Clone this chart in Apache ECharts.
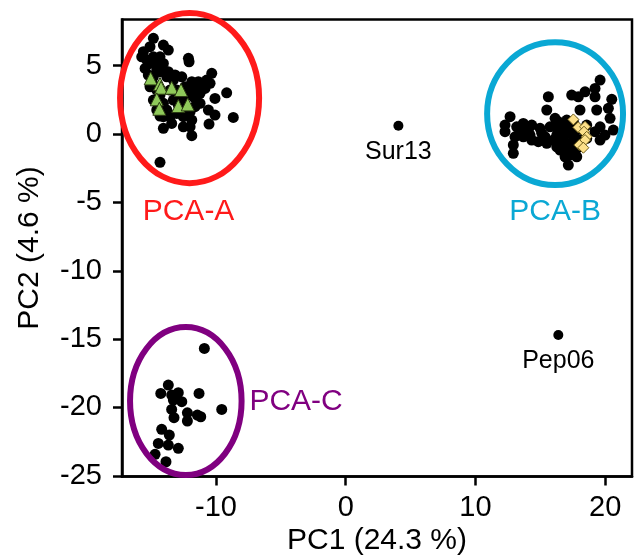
<!DOCTYPE html>
<html>
<head>
<meta charset="utf-8">
<script src="https://cdn.jsdelivr.net/npm/echarts@6/dist/echarts.min.js"></script>
<style>html,body{margin:0;padding:0;background:#fff}#c{width:635px;height:558px}</style>
</head>
<body>
<div id="c"></div>
<script>
const xTicks = [-10, 0, 10, 20];
const yTicks = [5, 0, -5, -10, -15, -20, -25];
const xName = 'PC1 (24.3 %)';
const yName = 'PC2 (4.6 %)';

const clusterA = [
  [-14.83,7.0],[-14.06,6.51],[-13.68,6.14],[-15.09,6.39],[-15.6,6.02],[-15.73,5.65],[-15.34,5.41],
  [-14.83,5.65],[-14.57,5.05],[-14.06,5.17],[-15.47,4.8],[-15.22,4.32],[-14.32,4.56],[-13.68,4.56],
  [-13.16,4.32],[-12.64,4.19],[-12.13,5.54],[-12.08,5.29],[-11.87,3.83],[-11.36,3.83],[-10.33,4.44],
  [-10.72,3.95],[-10.85,3.34],[-11.23,2.98],[-11.62,2.61],[-10.08,2.61],[-9.18,3.02],[-11.23,2.25],
  [-11.62,2.0],[-10.59,1.76],[-10.08,1.39],[-8.67,1.22],[-10.54,0.73],[-11.87,1.02],[-12.0,0.53],
  [-11.87,-0.12],[-12.52,0.53],[-13.42,0.78],[-14.06,0.42],[-14.32,1.32],[-14.32,-2.07],
  [-14.83,4.19],[-14.83,3.58],[-14.57,3.22],[-14.32,2.85],[-14.06,2.25],[-13.8,1.76],[-13.55,3.22],
  [-13.03,3.22],[-12.78,2.73],[-13.29,2.49],[-12.52,2.36],[-12.26,1.76],[-13.03,1.51],[-13.55,1.27],
  [-12.52,1.27],[-12.0,1.63],[-13.8,4.19],[-13.29,3.95],[-14.57,1.76],[-14.06,1.27],[-14.83,2.49],
  [-15.09,3.46],[-12.91,2.12],[-12.14,2.85],[-11.49,3.22],[-11.75,3.46],[-12.39,3.46],
  [-14.32,5.65],[-14.57,4.68],[-15.09,5.17],[-10.98,3.58],[-10.46,3.71]
];
const clusterB = [
  [19.61,3.95],[19.22,3.34],[18.45,3.09],[17.42,2.85],[17.93,2.73],[15.62,2.73],[19.22,2.73],
  [20.51,2.54],[20.25,1.88],[19.35,1.76],[18.06,1.76],[15.5,1.76],[20.38,1.15],[20.63,0.29],
  [12.67,1.27],[12.28,0.66],[12.28,0.17],[12.92,-0.8],[12.92,-1.41],[13.69,0.78],[14.34,0.66],
  [13.44,0.17],[14.98,0.42],[15.11,0.05],[15.75,0.53],[16.39,0.9],[16.14,1.15],[14.34,-0.44],
  [13.69,-0.2],[15.5,-0.68],[16.27,-0.93],[16.78,-1.05],[17.29,-1.17],[17.16,-2.27],[17.81,-1.66],
  [18.58,-0.32],[19.61,-0.44],[19.99,-0.07],[19.22,0.17],[18.58,0.66],[19.61,0.53],[16.78,0.29],
  [16.78,-0.2],[15.37,-0.2],
  [16.39,0.29],[17.04,0.05],[17.55,-0.2],[16.52,-0.44],[17.04,-0.68],[17.55,-0.8],[16.52,-1.17],
  [17.29,-1.54],[16.91,-1.66],[17.81,-1.05],[16.27,-0.07],[16.01,-0.44],[18.06,-0.44],[17.81,0.29],
  [17.29,0.53],[17.55,0.9],[17.04,1.02],[16.78,0.66],[18.32,0.29],[14.08,0.29],[14.21,-0.07],
  [14.85,-0.56],[13.18,0.53],[13.05,-0.2]
];
const clusterC = [
  [-10.9,-15.68],[-13.68,-18.36],[-14.26,-18.97],[-13.42,-19.09],[-12.91,-18.92],[-13.29,-19.46],
  [-12.64,-19.58],[-11.31,-18.97],[-13.42,-20.14],[-12.21,-20.39],[-13.24,-20.75],[-12.21,-20.99],
  [-11.44,-20.56],[-11.18,-20.68],[-9.56,-20.14],[-14.19,-21.6],[-13.6,-22.02],[-14.45,-22.63],
  [-13.68,-22.75],[-12.91,-22.99],[-14.7,-23.43],[-13.86,-23.97]
];
const trianglesA = [
  [-15.04,4.07],[-14.32,3.66],[-14.24,3.39],[-13.42,3.39],[-12.7,3.22],[-14.57,2.54],
  [-14.37,1.85],[-12.91,2.05],[-12.18,2.17]
];
const diamondsB = [
  [17.55,1.07],[17.93,0.49],[18.45,0.53],[18.37,0.17],[18.58,-0.2],[18.45,-0.44],[18.01,-0.8],[18.32,-1.0]
];
const outlierPoints = [[4.06,0.61],[16.39,-14.7]];
const outlierNames = ['Sur13', 'Pep06'];

const groupNames = ['PCA-A', 'PCA-B', 'PCA-C'];
const ellipseCenters = [[-12.04,2.63],[16.14,1.49],[-12.33,-19.53]];
const ellipseRadii = [[5.36,6.22],[5.24,5.22],[4.3,5.41]];
const groupLabelPos = [[-12.12,-5.7],[16.14,-5.7],[-3.83,-19.6]];
const groupColors = ['#ff1a1a', '#0aa8d4', '#800080'];

const FONT = 'Liberation Sans, Arial, sans-serif';
const ellipseData = groupNames.map((n, i) => [
  ellipseCenters[i][0], ellipseCenters[i][1], ellipseRadii[i][0], ellipseRadii[i][1],
  groupLabelPos[i][0], groupLabelPos[i][1]
]);
const dotStyle = { color: '#000', opacity: 1 };

const chart = echarts.init(document.getElementById('c'));
chart.setOption({
  animation: false,
  backgroundColor: '#fff',
  grid: {
    left: 122, right: 3, top: 19.5, bottom: 81.5,
    show: true, borderColor: '#000', borderWidth: 2.5,
    outerBoundsMode: 'none', containLabel: false
  },
  xAxis: {
    type: 'value', min: -17.25, max: 22.07,
    name: xName, nameLocation: 'middle', nameGap: 49, nameMoveOverlap: false,
    nameTextStyle: { fontSize: 30, fontFamily: FONT, color: '#000' },
    axisLine: { show: true, onZero: false, lineStyle: { color: '#000', width: 2.5 } },
    axisTick: { show: true, length: 9, lineStyle: { color: '#000', width: 2.5 }, customValues: xTicks },
    axisLabel: { fontSize: 29, fontFamily: FONT, color: '#000', margin: 17, customValues: xTicks },
    splitLine: { show: false }
  },
  yAxis: {
    type: 'value', min: -25.05, max: 8.38,
    name: yName, nameLocation: 'middle', nameGap: 77, nameRotate: 90, nameMoveOverlap: false,
    nameTextStyle: { fontSize: 30, fontFamily: FONT, color: '#000' },
    axisLine: { show: true, onZero: false, lineStyle: { color: '#000', width: 2.5 } },
    axisTick: { show: true, length: 9, lineStyle: { color: '#000', width: 2.5 }, customValues: yTicks },
    axisLabel: { fontSize: 29, fontFamily: FONT, color: '#000', margin: 20, customValues: yTicks },
    splitLine: { show: false }
  },
  series: [
    { type: 'scatter', data: clusterA, symbol: 'circle', symbolSize: 11, itemStyle: dotStyle, z: 3 },
    { type: 'scatter', data: clusterB, symbol: 'circle', symbolSize: 11, itemStyle: dotStyle, z: 3 },
    { type: 'scatter', data: clusterC, symbol: 'circle', symbolSize: 11, itemStyle: dotStyle, z: 3 },
    {
      type: 'scatter', data: outlierPoints, symbol: 'circle', symbolSize: 10, itemStyle: dotStyle, z: 3,
      label: {
        show: true, position: 'bottom', distance: 9,
        formatter: p => outlierNames[p.dataIndex],
        fontSize: 25, fontFamily: FONT, color: '#000'
      }
    },
    {
      type: 'scatter', data: trianglesA, symbol: 'triangle', symbolSize: 13, z: 4,
      itemStyle: { color: '#8fc95a', borderColor: '#2b3a12', borderWidth: 1, opacity: 1 }
    },
    {
      type: 'scatter', data: diamondsB, symbol: 'diamond', symbolSize: 11, z: 4,
      itemStyle: { color: '#fde08a', borderColor: '#6b5a1a', borderWidth: 1, opacity: 1 }
    },
    {
      type: 'custom', data: ellipseData, clip: false, z: 5,
      renderItem: function (params, api) {
        const c = api.coord([api.value(0), api.value(1)]);
        const s = api.size([api.value(2), api.value(3)]);
        const lp = api.coord([api.value(4), api.value(5)]);
        const col = groupColors[params.dataIndex];
        return {
          type: 'group',
          children: [
            { type: 'ellipse', shape: { cx: c[0], cy: c[1], rx: s[0], ry: s[1] },
              style: { fill: 'none', stroke: col, lineWidth: 6 } },
            { type: 'text', x: lp[0], y: lp[1],
              style: { text: groupNames[params.dataIndex], fill: col, fontSize: 30, fontFamily: FONT,
                       align: 'center', verticalAlign: 'middle' } }
          ]
        };
      }
    }
  ]
});
</script>
</body>
</html>
